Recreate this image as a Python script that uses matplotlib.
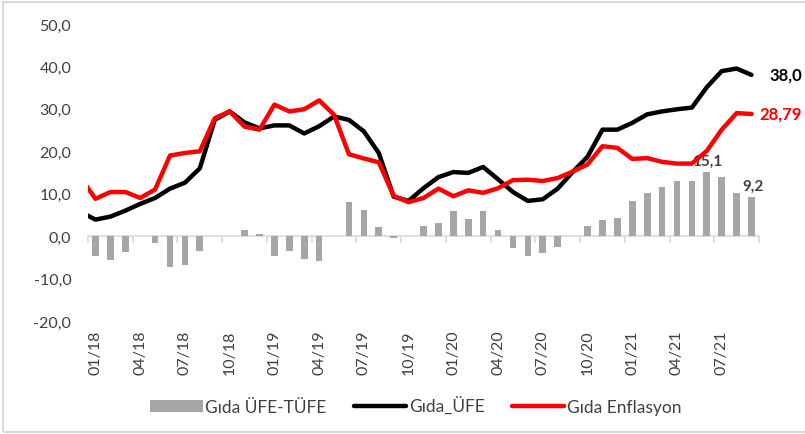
import matplotlib
matplotlib.use('Agg')
import matplotlib.pyplot as plt
import numpy as np

plt.rcParams['font.family'] = ['Lato', 'DejaVu Sans']

# monthly series, 12/17 .. 09/21 (the 12/17 point only shows as the clipped stub at the left edge)
gida_ufe = np.array([5.7,
                     3.9, 4.6, 6.0, 7.6, 9.0, 11.2, 12.6, 16.0, 27.4, 29.4, 26.8, 25.4,
                     26.1, 26.1, 24.2, 25.9, 28.2, 27.4, 24.7, 19.6, 9.3, 8.3, 11.3, 13.9,
                     15.1, 14.9, 16.3, 13.4, 10.4, 8.3, 8.7, 11.2, 15.1, 18.7, 25.1, 25.1,
                     26.7, 28.7, 29.4, 29.9, 30.3, 35.1, 38.9, 39.5, 38.0])
gida_enf = np.array([13.8,
                     8.8, 10.4, 10.4, 9.0, 11.0, 19.0, 19.6, 20.0, 27.8, 29.4, 25.8, 25.1,
                     31.0, 29.4, 29.9, 32.0, 28.6, 19.3, 18.3, 17.4, 9.5, 8.0, 9.0, 11.2,
                     9.4, 10.8, 10.2, 11.3, 13.2, 13.3, 13.0, 13.7, 15.2, 16.9, 21.2, 20.8,
                     18.2, 18.4, 17.5, 17.1, 17.1, 20.1, 25.1, 29.0, 28.79])
# 01/18 .. 09/21
ufe_tufe = np.array([-4.7, -5.6, -3.8, 0.0, -1.6, -7.2, -6.8, -3.6, 0.0, 0.0, 1.5, 0.4,
                     -4.7, -3.5, -5.3, -5.9, 0.0, 8.1, 6.2, 2.1, -0.4, 0.0, 2.3, 3.0,
                     6.0, 4.1, 6.0, 1.5, -2.8, -4.6, -3.9, -2.5, 0.0, 2.5, 3.8, 4.2,
                     8.4, 10.1, 11.7, 12.9, 13.1, 15.1, 14.0, 10.1, 9.2])
tick_labels = ['01/18', '04/18', '07/18', '10/18', '01/19', '04/19', '07/19', '10/19',
               '01/20', '04/20', '07/20', '10/20', '01/21', '04/21', '07/21']

n = len(ufe_tufe)
x = np.arange(n)
x_line = np.arange(-1, n)

fig = plt.figure(figsize=(8.05, 4.35), dpi=100)
ax = fig.add_axes([88/805, 1 - 322/435, (759 - 88)/805, (322 - 25)/435])

grey = '#a6a6a6'
txt = '#404040'

b = ax.bar(x, ufe_tufe, 0.45, color=grey, label='Gıda ÜFE-TÜFE', zorder=2)
l1, = ax.plot(x_line, gida_ufe, color='black', lw=3.2, label='Gıda_ÜFE', zorder=3,
              solid_joinstyle='round', solid_capstyle='round')
l2, = ax.plot(x_line, gida_enf, color='#ff0000', lw=3.2, label='Gıda Enflasyon', zorder=4,
              solid_joinstyle='round', solid_capstyle='round')

ax.set_xlim(-0.5, n - 0.5)
ax.set_ylim(-20, 50)

# axes styling (Excel look: zero line with ticks, labels at the bottom)
for s in ['left', 'right', 'top']:
    ax.spines[s].set_visible(False)
ax.spines['bottom'].set_position(('data', 0))
ax.spines['bottom'].set_color('#d9d9d9')
ax.spines['bottom'].set_linewidth(1.2)
ax.spines['bottom'].set_zorder(1)

ax.set_xticks(np.arange(-0.5, n, 3))
ax.set_xticklabels([])
ax.set_xticks(np.arange(0, n, 3), tick_labels, minor=True)
ax.tick_params(axis='x', which='major', length=5, width=1.2, color='#d9d9d9', direction='out')
ax.tick_params(axis='x', which='minor', length=0, pad=67, labelrotation=90,
               labelsize=11.5, labelcolor=txt)

yt = np.arange(-20, 51, 10)
ax.set_yticks(yt, ['{:.1f}'.format(v).replace('.', ',') for v in yt])
ax.tick_params(axis='y', length=0, pad=12, labelsize=11.5, labelcolor=txt)

# value labels
ax.annotate('38,0', (x[-1], gida_ufe[-1]), xytext=(13, 0), textcoords='offset points',
            va='center', ha='left', fontsize=12, fontweight='bold', color='black',
            annotation_clip=False)
ax.annotate('28,79', (x[-1], gida_enf[-1]), xytext=(5.5, 0), textcoords='offset points',
            va='center', ha='left', fontsize=12, fontweight='bold', color='#ff0000',
            annotation_clip=False)
i_max = int(np.argmax(ufe_tufe))
ax.annotate('15,1', (x[i_max], ufe_tufe[i_max]), xytext=(0, 3), textcoords='offset points',
            va='bottom', ha='center', fontsize=11, fontweight='bold', color=txt)
ax.annotate('9,2', (x[-1], ufe_tufe[-1]), xytext=(1, 3), textcoords='offset points',
            va='bottom', ha='center', fontsize=11, fontweight='bold', color=txt)

leg = ax.legend([b, l1, l2], ['Gıda ÜFE-TÜFE', 'Gıda_ÜFE', 'Gıda Enflasyon'],
                loc='center', bbox_to_anchor=(416/805, 1 - 407/435),
                bbox_transform=fig.transFigure, ncol=3, frameon=False,
                fontsize=12.5, handlelength=3.0, handletextpad=0.15, columnspacing=1.6)
for t in leg.get_texts():
    t.set_color(txt)

# outer chart border (right side runs off the image)
fig.patches.append(plt.Rectangle((3/805, 2/435), 1.0, 1 - 5/435, transform=fig.transFigure,
                                 fill=False, edgecolor='#d9d9d9', lw=1.5))

fig.savefig('out.png', dpi=100)
